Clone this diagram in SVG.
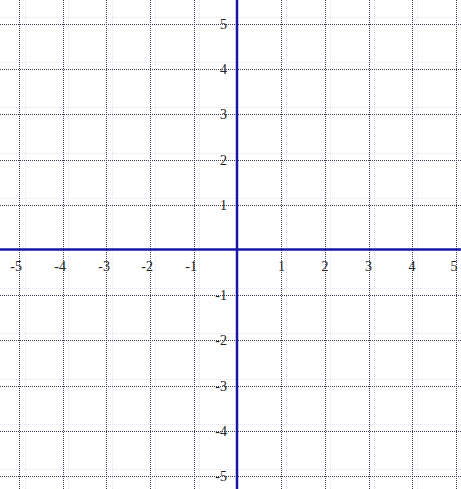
<svg xmlns="http://www.w3.org/2000/svg" width="461" height="489" viewBox="0 0 461 489">
<style>
.g{stroke:#3c3c55;stroke-width:1;stroke-dasharray:1 1;fill:none}
.f{stroke:#e4e4ec;stroke-width:1;stroke-dasharray:1 1;fill:none}
.ax{stroke:#1818a8;stroke-width:2.5;fill:none}
text{font-family:"Liberation Serif",serif;font-size:14px;fill:#222}
.xl{text-anchor:middle}
.xn{text-anchor:end}
.yl{text-anchor:end}
</style>
<rect width="461" height="489" fill="#fff"/>
<g id="faint">
<path class="f" d="M25.5 0V489M68.5 0V489M112.5 0V489M155.5 0V489M199.5 0V489M286.5 0V489M330.5 0V489M374.5 0V489M417.5 0V489"/>
<path class="f" d="M0 17.5H461M0 62.5H461M0 107.5H461M0 153.5H461M0 198.5H461M0 288.5H461M0 333.5H461M0 379.5H461M0 424.5H461M0 469.5H461"/>
</g>
<g id="grid">
<path class="g" d="M19.5 0V489M63.5 0V489M106.5 0V489M150.5 0V489M194.5 0V489M281.5 0V489M325.5 0V489M369.5 0V489M412.5 0V489M456.5 0V489"/>
<path class="g" d="M0 24.5H461M0 69.5H461M0 114.5H461M0 160.5H461M0 205.5H461M0 295.5H461M0 340.5H461M0 386.5H461M0 431.5H461M0 476.5H461"/>
</g>
<g id="axes">
<line class="ax" x1="0" y1="249.5" x2="461" y2="249.5"/>
<line class="ax" x1="237" y1="0" x2="237" y2="489"/>
</g>
<g id="xlabels">
<text class="xn" x="22" y="271">-5</text>
<text class="xn" x="66" y="271">-4</text>
<text class="xn" x="110" y="271">-3</text>
<text class="xn" x="153" y="271">-2</text>
<text class="xn" x="197" y="271">-1</text>
<text class="xl" x="281.5" y="271">1</text>
<text class="xl" x="325" y="271">2</text>
<text class="xl" x="368.5" y="271">3</text>
<text class="xl" x="412" y="271">4</text>
<text class="xl" x="454" y="271">5</text>
</g>
<g id="ylabels">
<text class="yl" x="227" y="29">5</text>
<text class="yl" x="227" y="74">4</text>
<text class="yl" x="227" y="119">3</text>
<text class="yl" x="227" y="165">2</text>
<text class="yl" x="227" y="210">1</text>
<text class="yl" x="227" y="300">-1</text>
<text class="yl" x="227" y="345">-2</text>
<text class="yl" x="227" y="391">-3</text>
<text class="yl" x="227" y="436">-4</text>
<text class="yl" x="227" y="481">-5</text>
</g>
</svg>
